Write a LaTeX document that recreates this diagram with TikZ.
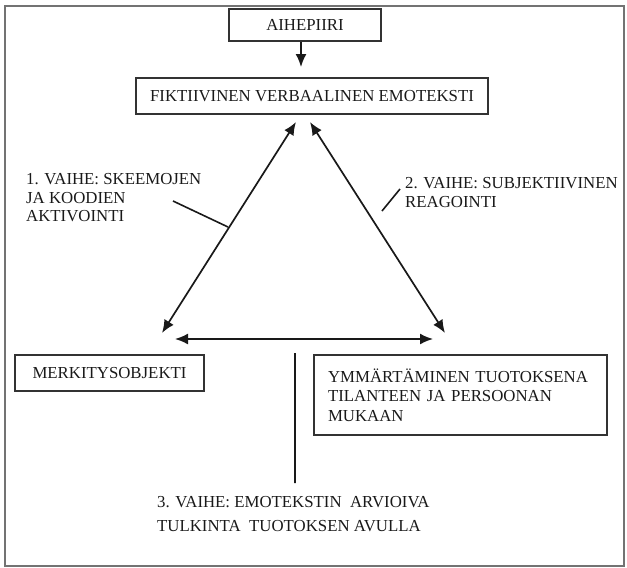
\documentclass[tikz,border=0pt]{standalone}
\usepackage{fontspec}
\setmainfont{Liberation Serif}
\usetikzlibrary{arrows.meta}

\begin{document}
\begin{tikzpicture}[x=1pt,y=-1pt,
    box/.style={rectangle,draw=black!80,line width=1.6pt,inner sep=0pt,text=black!90,font=\fontsize{16.8}{19.5}\selectfont},
    lbl/.style={inner sep=0pt,align=left,anchor=west,text=black!90,font=\fontsize{16.8}{18.5}\selectfont},
    arr/.style={line width=1.7pt,draw=black!90,-{Latex[length=13pt,width=11pt]}},
    dbl/.style={line width=1.7pt,draw=black!90,{Latex[length=13pt,width=11pt]}-{Latex[length=13pt,width=11pt]}}]
    \useasboundingbox (0,0) rectangle (627,568);
    \draw[black!55,line width=1.8pt] (5,6) rectangle (624,566);
    % boxes
    \node[box,minimum width=152pt,minimum height=32pt] (aihe) at (305,25) {AIHEPIIRI};
    \node[box,minimum width=352pt,minimum height=36pt] (emo) at (312,96) {FIKTIIVINEN VERBAALINEN EMOTEKSTI};
    \node[box,minimum width=189pt,minimum height=36pt] (merk) at (109.5,373) {MERKITYSOBJEKTI};
    \node[box,minimum height=80pt,inner xsep=14pt,text width=265pt,align=left] (ymm) at (460.5,395)
        {YMMÄRTÄMINEN TUOTOKSENA\\TILANTEEN JA PERSOONAN\\MUKAAN};
    % phase labels
    \node[lbl] (v1) at (26,198) {1. VAIHE: SKEEMOJEN\\JA KOODIEN\\AKTIVOINTI};
    \node[lbl] (v2) at (405,192.5) {2. VAIHE: SUBJEKTIIVINEN\\REAGOINTI};
    \node[lbl,font=\fontsize{16.8}{24}\selectfont] (v3) at (157,514) {3. VAIHE: EMOTEKSTIN\ \ ARVIOIVA\\TULKINTA\ \ TUOTOKSEN AVULLA};
    % triangle corners
    \coordinate (tl) at (296,122); \coordinate (tr) at (310,122);
    \coordinate (bl) at (162,333); \coordinate (br) at (445,333);
    \coordinate (hl) at (175,339); \coordinate (hr) at (433,339);
    \coordinate (s1) at (173,201); \coordinate (e1) at (228,227);
    \coordinate (s2) at (400,189); \coordinate (e2) at (382,211);
    \coordinate (s3) at (295,353); \coordinate (e3) at (295,483);
    \draw[arr] (aihe.south -| 301,0) -- (301,67);
    \draw[dbl] (tl) -- (bl);
    \draw[dbl] (tr) -- (br);
    \draw[dbl] (hl) -- (hr);
    \draw[line width=1.6pt,black!90] (s1) -- (e1) (s2) -- (e2) (s3) -- (e3);
\end{tikzpicture}
\end{document}
